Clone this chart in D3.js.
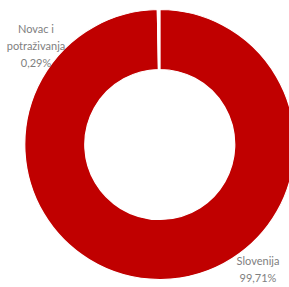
<!DOCTYPE html>
<html><head><meta charset="utf-8">
<script src="https://cdn.jsdelivr.net/npm/d3@7"></script>
<style>html,body{margin:0;padding:0;background:#fff;overflow:hidden}</style>
</head><body>
<svg id="c" width="289" height="287"></svg>
<script>
const categories = ["Slovenija", "Novac i potraživanja"];
const values = [99.71, 0.29];
const labelLines = [["Slovenija", "99,71%"], ["Novac i", "potraživanja", "0,29%"]];
const colors = ["#C00000", "#FFFFFF"];

const svg = d3.select("#c");
const cx = 159.8, cy = 144.5, rOuter = 135, rInner = 75;
const g = svg.append("g").attr("transform", `translate(${cx},${cy})`);
const pie = d3.pie().sort(null).value(d => d)(values);
const arc = d3.arc().innerRadius(rInner).outerRadius(rOuter);
g.selectAll("path").data(pie).join("path")
  .attr("d", arc)
  .attr("fill", (d, i) => colors[i])
  .attr("stroke", "#fff").attr("stroke-width", 1.2);

const labelPos = [[258, 265], [36, 33]];
labelLines.forEach((lines, i) => {
  const t = svg.append("text")
    .attr("x", labelPos[i][0]).attr("y", labelPos[i][1])
    .attr("text-anchor", "middle")
    .attr("font-family", "Lato, sans-serif")
    .attr("font-size", 11).attr("fill", "#808080");
  lines.forEach((l, j) => t.append("tspan").attr("x", labelPos[i][0]).attr("dy", j ? 17 : 0).text(l));
});
</script>
</body></html>
